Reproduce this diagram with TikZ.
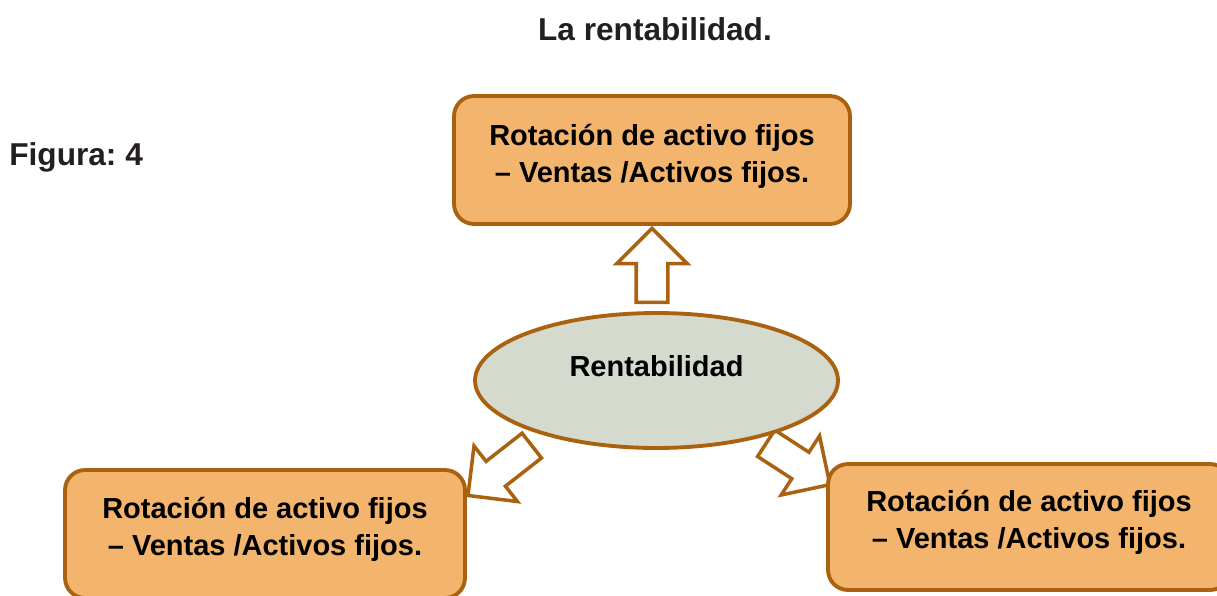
\documentclass[tikz,border=0pt]{standalone}
\usepackage{fontspec}
\setmainfont{Liberation Sans}
\usetikzlibrary{shapes.geometric}
\usetikzlibrary{shapes.arrows}
\usetikzlibrary{positioning}
\definecolor{boxfill}{RGB}{243,181,110}
\definecolor{boxline}{RGB}{170,98,16}
\definecolor{ovalfill}{RGB}{212,218,206}
\definecolor{titlegray}{RGB}{35,31,32}
\frenchspacing

\begin{document}
\begin{tikzpicture}[
    x=0.02cm, y=-0.02cm,
    box/.style={
        rectangle,
        rounded corners=0.4cm,
        draw=boxline,
        line width=2.2pt,
        fill=boxfill,
        minimum width={7.92cm},
        minimum height={2.56cm}
    },
    oval/.style={
        ellipse,
        draw=boxline,
        line width=2.2pt,
        fill=ovalfill,
        minimum width={7.26cm},
        minimum height={2.7cm}
    },
    txt/.style={
        align=center,
        inner sep=0pt,
        font=\fontsize{16.5}{21}\selectfont\bfseries
    },
    bigarrow/.style={
        single arrow,
        draw=boxline,
        line width=2pt,
        fill=white,
        inner xsep=0pt,
        inner ysep=0.28cm,
        single arrow head extend=0.39cm,
        single arrow tip angle=90,
        anchor=tip
    }
]
\useasboundingbox (0,0) rectangle (1217,595);

\node [anchor=base, text=titlegray, font=\fontsize{18}{22}\selectfont\bfseries] (title) at (655,40) {La rentabilidad.};
\node [anchor=base west, text=titlegray, font=\fontsize{18}{22}\selectfont\bfseries, inner sep=0pt] (fig) at (9,165) {Figura: 4};

% arrows
\node [bigarrow, rotate=218, minimum height=1.62cm] (a2) at (466,497) {};
\node [bigarrow, rotate=-33, minimum height=1.52cm] (a3) at (832,486) {};

% boxes
\node [box] (rot1) at (652,160) {};
\node [box, minimum width={8cm}] (rot2) at (265,534) {};
\node [box, minimum width={8.04cm}, minimum height={2.52cm}] (rot3) at (1029,527) {};
\node [oval] (rent) at (656.5,380.5) {};

\node [bigarrow, rotate=90, minimum height=1.48cm] (a1) at (rot1.south) {};

% texts
\node [txt] (t1) at (652,156) {Rotación de activo fijos\\– Ventas /Activos fijos.};
\node [txt] (t2) at (265,529) {Rotación de activo fijos\\– Ventas /Activos fijos.};
\node [txt] (t3) at (1029,522) {Rotación de activo fijos\\– Ventas /Activos fijos.};
\node [txt, anchor=base] (t0) at (656.5,376) {Rentabilidad};
\end{tikzpicture}
\end{document}
